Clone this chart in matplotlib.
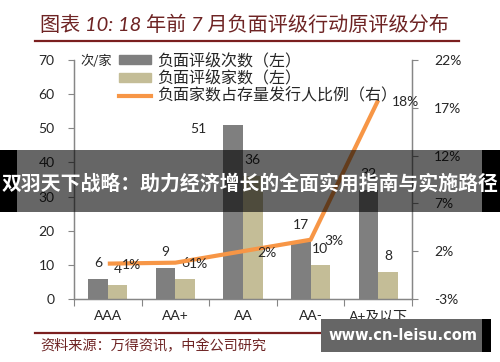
import matplotlib
matplotlib.use("Agg")
import matplotlib.pyplot as plt
from matplotlib.patches import Rectangle, Patch
from matplotlib.lines import Line2D
from matplotlib.ticker import FuncFormatter, FixedLocator, NullFormatter
import numpy as np

plt.rcParams['font.family'] = ['Lato', 'Noto Sans CJK SC', 'DejaVu Sans']

categories = ["AAA", "AA+", "AA", "AA-", "A+及以下"]
neg_actions = [6, 9, 51, 17, 32]          # 负面评级次数（左）
neg_issuers = [4, 6, 36, 10, 8]           # 负面评级家数（左）
ratio_pct = [0.7, 0.8, 2.0, 3.2, 17.8]    # 负面家数占存量发行人比例（右）, %
ratio_labels = ["1%", "1%", "2%", "3%", "18%"]

title = "图表 10: 18 年前 7 月负面评级行动原评级分布"
source = "资料来源：万得资讯，中金公司研究"
legend_labels = ["负面评级次数（左）", "负面评级家数（左）", "负面家数占存量发行人比例（右）"]

W, H = 500, 362
fig = plt.figure(figsize=(5, 3.62), dpi=100)

def fx(px):
    return px / W

def fy(py):
    return 1 - py / H

ax = fig.add_axes([fx(74), fy(299), fx(412) - fx(74), fy(60) - fy(299)])
ax2 = ax.twinx()

gray = "#7f7f7f"
tan = "#c4bd97"
orange = "#f79646"
axis_col = "#868686"
txt_col = "#262626"
maroon = "#6e2424"

x = np.arange(len(categories))
bw = 0.29
b1 = ax.bar(x - bw / 2, neg_actions, bw, color=gray, zorder=2)
b2 = ax.bar(x + bw / 2, neg_issuers, bw, color=tan, zorder=2)

ax.set_xlim(-0.5, len(categories) - 0.5)
ax.set_ylim(0, 70)
ax.set_yticks(np.arange(0, 71, 10))
ax2.set_ylim(-3, 22)
ax2.set_yticks(np.arange(-3, 23, 5))
ax2.yaxis.set_major_formatter(FuncFormatter(lambda v, p: f"{v:.0f}%"))

ax.xaxis.set_major_locator(FixedLocator(np.arange(-0.5, len(categories), 1.0)))
ax.xaxis.set_major_formatter(NullFormatter())
ax.xaxis.set_minor_locator(FixedLocator(x))
ax.set_xticklabels(categories, minor=True)
ax.tick_params(axis='x', which='major', length=5, color=axis_col, direction='out')
ax.tick_params(axis='x', which='minor', length=0, pad=8, labelsize=10, labelcolor=txt_col)
ax.tick_params(axis='y', length=4, color=axis_col, pad=10, labelsize=10, labelcolor=txt_col)
ax2.tick_params(axis='y', length=4, color=axis_col, pad=12, labelsize=10, labelcolor=txt_col)

for a in (ax, ax2):
    a.spines['top'].set_visible(False)
    for s in ('left', 'right', 'bottom'):
        a.spines[s].set_color(axis_col)
        a.spines[s].set_linewidth(0.9)
ax.set_zorder(ax2.get_zorder() - 1)
ax2.patch.set_visible(False)

ax2.plot(x, ratio_pct, color=orange, lw=3, solid_capstyle='butt', zorder=3)

# bar labels
for i, (rect, v) in enumerate(zip(b1, neg_actions)):
    dx, dy = 0, 11.5
    if v == max(neg_actions):
        dx, dy = -25, -3
    ax.annotate(str(v), (rect.get_x() + rect.get_width() / 2, rect.get_height()),
                xytext=(dx, dy), textcoords='offset points', ha='center', va='center',
                fontsize=10, color=txt_col, zorder=4)
for rect, v in zip(b2, neg_issuers):
    ax.annotate(str(v), (rect.get_x() + rect.get_width() / 2, rect.get_height()),
                xytext=(0, 11.5), textcoords='offset points', ha='center', va='center',
                fontsize=10, color=txt_col, zorder=4)
for xi, v, lab in zip(x, ratio_pct, ratio_labels):
    ax2.annotate(lab, (xi, v), xytext=(10, -1), textcoords='offset points',
                 ha='left', va='center', fontsize=10, color=txt_col, zorder=5)

# legend
handles = [Patch(color=gray), Patch(color=tan), Line2D([], [], color=orange, lw=3)]
leg = fig.legend(handles, legend_labels, loc='upper left',
                 bbox_to_anchor=(fx(119), fy(52)), bbox_transform=fig.transFigure,
                 frameon=False, borderpad=0, borderaxespad=0, handlelength=2.0,
                 handleheight=0.5, handletextpad=0.4, labelspacing=0.06,
                 prop={'family': ['Noto Sans CJK SC'], 'size': 11.5})
for t in leg.get_texts():
    t.set_color(txt_col)

fig.text(fx(80), fy(61), "次/家", fontsize=9.5, color=txt_col, va='center', ha='left',
         family=['Noto Sans CJK SC'])

# title and frame lines
fig.text(fx(40), fy(24), title, fontsize=14.5, color=maroon, va='center', ha='left',
         family=['Lato', 'Noto Sans CJK SC'], style='italic')
fig.add_artist(Line2D([fx(35), fx(459)], [fy(41), fy(41)], color="#7b1f1f", lw=1.6,
                      transform=fig.transFigure))
fig.add_artist(Line2D([fx(35), fx(459)], [fy(333), fy(333)], color="#7b1f1f", lw=1.6,
                      transform=fig.transFigure))
fig.text(fx(40), fy(346), source, fontsize=10.2, color=maroon, va='center', ha='left',
         family=['Noto Sans CJK SC'], style='italic')

# overlay watermark band
fig.add_artist(Rectangle((0, fy(212)), 1, fy(150) - fy(212), transform=fig.transFigure,
                         facecolor='black', alpha=0.6, edgecolor='none', zorder=10))
fig.add_artist(Rectangle((0, fy(212)), fx(17), fy(150) - fy(212), transform=fig.transFigure,
                         facecolor='black', edgecolor='none', zorder=10))
fig.add_artist(Rectangle((fx(482), fy(212)), 1 - fx(482), fy(150) - fy(212),
                         transform=fig.transFigure, facecolor='black', edgecolor='none', zorder=10))
t = fig.text(0.5, fy(183), "双羽天下战略：助力经济增长的全面实用指南与实施路径", fontsize=14.3,
             color='white', weight='bold', ha='center', va='center',
             family=['Noto Sans CJK SC'], zorder=11)

fig.add_artist(Rectangle((fx(321), fy(352)), fx(482) - fx(321), fy(319) - fy(352),
                         transform=fig.transFigure, facecolor='#666666', edgecolor='none', zorder=10))
fig.add_artist(Rectangle((fx(482), fy(352)), fx(491) - fx(482), fy(319) - fy(352),
                         transform=fig.transFigure, facecolor='black', edgecolor='none', zorder=10))
fig.text(fx(403), fy(336), "www.cn-leisu.com", fontsize=10.5, color='white', weight='bold',
         ha='center', va='center', family=['DejaVu Sans'], zorder=11)

fig.savefig("out.png", dpi=100)
